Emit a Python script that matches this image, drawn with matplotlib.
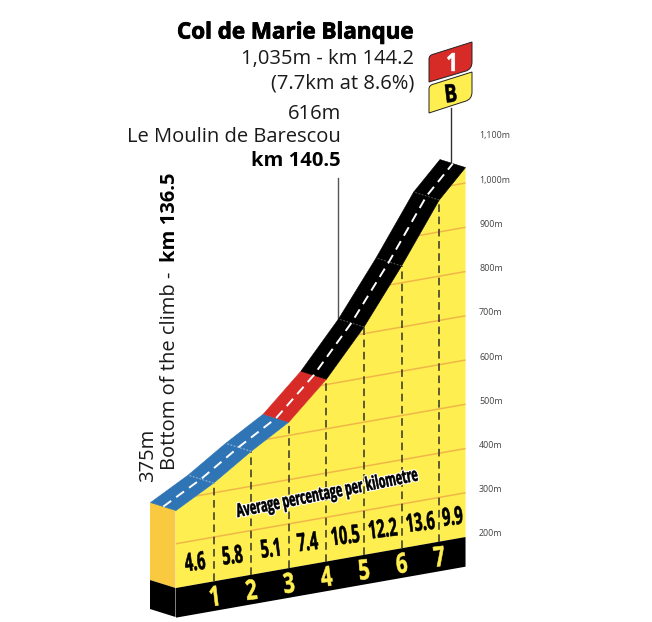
#!/usr/bin/env python3

import matplotlib
matplotlib.use("Agg")
import matplotlib.pyplot as plt
import matplotlib.patheffects as pe
from matplotlib.colors import to_rgb
from matplotlib.patches import Polygon, PathPatch
from matplotlib.path import Path
from matplotlib.text import Text
from matplotlib.textpath import TextPath
from matplotlib.transforms import Affine2D

# profile
km_marks = [0, 1, 2, 3, 4, 5, 6, 7, 7.7]
altitudes = [375, 422, 479, 530, 612, 715, 838, 972, 1035]
seg_colors = ["#2f74b5", "#2f74b5", "#2f74b5", "#d62b27", "#000000", "#000000", "#000000", "#000000"]
grades = ["4.6", "5.8", "5.1", "7.4", "10.5", "12.2", "13.6", "9.9"]
grade_km = [0.5, 1.5, 2.5, 3.5, 4.5, 5.5, 6.5, 7.35]
km_labels = [1, 2, 3, 4, 5, 6, 7]
grid_alts = [300, 400, 500, 600, 700, 800, 900, 1000]
tick_alts = [200, 300, 400, 500, 600, 700, 800, 900, 1000, 1100]
tick_labels = ["200m", "300m", "400m", "500m", "600m", "700m", "800m", "900m", "1,000m", "1,100m"]

BASE_ALT = 200
BAND_DROP = 67  # black strip under the profile, in metres
YELLOW = "#ffee50"
SANS = "Open Sans"
TEXT_COL = "#1a1a1a"


class NarrowText(Text):
    """Text squeezed sideways, no condensed face is installed. Centred on its position."""

    def __init__(self, x, y, text, xscale=0.6, halo=0, **kwargs):
        super().__init__(x, y, text, **kwargs)
        self.xscale = xscale
        self.halo = halo

    def draw(self, renderer):
        dpi = self.get_figure().dpi
        x, y = self.get_transform().transform(self.get_unitless_position())
        glyphs = TextPath((0, 0), self.get_text(), size=self.get_fontsize() * dpi / 72,
                          prop=self.get_fontproperties())
        box = glyphs.get_extents()
        tr = (Affine2D().translate(-box.x0 - box.width / 2, -box.y0 - box.height / 2)
              .scale(self.xscale, 1).rotate_deg(self.get_rotation()).translate(x, y))
        gc = renderer.new_gc()
        if self.halo:
            gc.set_foreground("white")
            gc.set_linewidth(self.halo)
            renderer.draw_path(gc, glyphs, tr, to_rgb("white"))
        gc.set_foreground(self.get_color())
        gc.set_linewidth(0.4)
        renderer.draw_path(gc, glyphs, tr, to_rgb(self.get_color()))
        gc.restore()


fig = plt.figure(figsize=(6.52, 6.22), dpi=100)
ax = fig.add_axes([0, 0, 1, 1])
ax.set_xlim(0, 652)
ax.set_ylim(622, 0)
ax.axis("off")

# km / altitude to picture position, sheared for the perspective
PX_KM = 37.6
PX_M = 0.4425
SLOPE = 0.176
shear = Affine2D.from_values(PX_KM, -SLOPE * PX_KM, 0, -PX_M, 176, 588 + BASE_ALT * PX_M)
front = shear + ax.transData
mid = shear + Affine2D().translate(-12.7, -4) + ax.transData

# front face
face_pts = list(zip(km_marks, altitudes)) + [(7.7, BASE_ALT), (0, BASE_ALT)]
face = Polygon(face_pts, closed=True, fc=YELLOW, ec="none", transform=front, zorder=1)
ax.add_patch(face)

# orange altitude lines, only under the road
for alt in grid_alts:
    line, = ax.plot([0, 7.7], [alt, alt], color="#f0b748", lw=1.1, transform=front, zorder=2)
    line.set_clip_path(face)

# km dashes
for k, alt in zip(km_marks[1:-1], altitudes[1:-1]):
    ax.plot([k, k], [BASE_ALT, alt], color="#33332b", lw=1.1, dashes=(5, 3), transform=front, zorder=3)

# left side of the block
ax.add_patch(Polygon([(150, 502), (175.5, 510), (175.5, 588), (150, 580)], fc="#f9c940", ec="none", zorder=1))
ax.add_patch(Polygon([(150, 580), (175.5, 588), (175.5, 617), (150, 609)], fc="black", ec="none", zorder=1))

# black strip
ax.add_patch(Polygon([(0, BASE_ALT), (7.7, BASE_ALT), (7.7, BASE_ALT - BAND_DROP), (0, BASE_ALT - BAND_DROP)],
                     fc="black", ec="none", transform=front, zorder=1))

# road, one piece per km
for i, col in enumerate(seg_colors):
    p0 = shear.transform((km_marks[i], altitudes[i]))
    p1 = shear.transform((km_marks[i + 1], altitudes[i + 1]))
    road = [p0, p1, p1 + (-25.5, -8), p0 + (-25.5, -8)]
    ax.add_patch(Polygon(road, fc=col, ec=col, lw=0.4, zorder=4))
    if i > 0 and col == seg_colors[i - 1]:
        seam = "#b9d2ea" if col != "#000000" else "#666666"
        ax.plot([p0[0], p0[0] - 25.5], [p0[1], p0[1] - 8], color=seam, lw=0.6, dashes=(2, 2), zorder=5)

# white centre line
ax.plot(km_marks, altitudes, color="white", lw=1.4, dashes=(5, 3.2), transform=mid, zorder=6)

# labels on the block
for k, g in zip(grade_km, grades):
    x, y = shear.transform((k, BASE_ALT + 53))
    ax.add_artist(NarrowText(x, y, g, xscale=0.58, fontsize=18, fontweight="bold", family=SANS,
                             color="black", rotation=7, zorder=7))
for k in km_labels:
    x, y = shear.transform((k, BASE_ALT - 33))
    ax.add_artist(NarrowText(x, y, str(k), xscale=0.72, fontsize=20, fontweight="bold", family=SANS,
                             color=YELLOW, rotation=7, zorder=7))

ax.add_artist(NarrowText(327, 494, "Average percentage per kilometre", xscale=0.58, halo=2, fontsize=13.5,
                         fontweight="bold", family=SANS, color="black", rotation=11.5, zorder=8))

# altitude scale
for alt, lab in zip(tick_alts, tick_labels):
    ax.text(479, 534 - (alt - BASE_ALT) * PX_M, lab, fontsize=6.4, family=SANS, color="#444444",
            ha="left", va="center")

# summit text
ax.text(414, 33, "Col de Marie Blanque", fontsize=16.1, fontweight="bold", family=SANS, color="black",
        ha="right", va="center", path_effects=[pe.withStroke(linewidth=0.6, foreground="black")])
ax.text(414, 59, "1,035m - km 144.2", fontsize=14.5, family=SANS, color=TEXT_COL, ha="right", va="center")
ax.text(414, 83, "(7.7km at 8.6%)", fontsize=14.5, family=SANS, color=TEXT_COL, ha="right", va="center")

# mid climb text
ax.text(341, 114, "616m", fontsize=14.5, family=SANS, color=TEXT_COL, ha="right", va="center")
ax.text(341, 137, "Le Moulin de Barescou", fontsize=14.5, family=SANS, color=TEXT_COL, ha="right", va="center")
ax.text(341, 161, "km 140.5", fontsize=14.5, fontweight="bold", family=SANS, color="black", ha="right", va="center")
ax.plot([338, 338], [178, 322], color="#555555", lw=1, zorder=3)

# start text
ax.text(148, 482, "375m", fontsize=14.5, family=SANS, color=TEXT_COL, rotation=90, ha="center", va="bottom")
ax.text(170, 470, "Bottom of the climb - ", fontsize=14.5, family=SANS, color=TEXT_COL, rotation=90,
        ha="center", va="bottom")
ax.text(170, 173, "km 136.5", fontsize=14.5, fontweight="bold", family=SANS, color="black", rotation=90,
        ha="center", va="top")


def flag(x0, x1, y0, drop, color):
    # slanted sign with two rounded corners
    verts = [(x0, y0 + 17), (x0, y0 + 13), (x0 + 5, y0 + 12), (x1, y0),
             (x1, y0 + 20), (x1, y0 + 27), (x1 - 6, y0 + 29), (x0, y0 + drop), (x0, y0 + 17)]
    codes = [Path.MOVETO, Path.CURVE3, Path.CURVE3, Path.LINETO,
             Path.LINETO, Path.CURVE3, Path.CURVE3, Path.LINETO, Path.CLOSEPOLY]
    ax.add_patch(PathPatch(Path(verts, codes), fc=color, ec="#222222", lw=0.7, zorder=6))


# summit sign and pole
ax.plot([451, 451], [108, 163], color="#333333", lw=1, zorder=3)
flag(429, 472, 42, 40, "#d62b27")
flag(429, 472, 72, 41, YELLOW)
ax.add_artist(NarrowText(451, 62, "1", xscale=0.85, fontsize=18, fontweight="bold", family=SANS,
                         color="white", zorder=7))
ax.add_artist(NarrowText(451, 93, "B", xscale=0.75, fontsize=18, fontweight="bold", family=SANS,
                         color="black", rotation=7, zorder=7))

fig.savefig("out.png", dpi=100)
